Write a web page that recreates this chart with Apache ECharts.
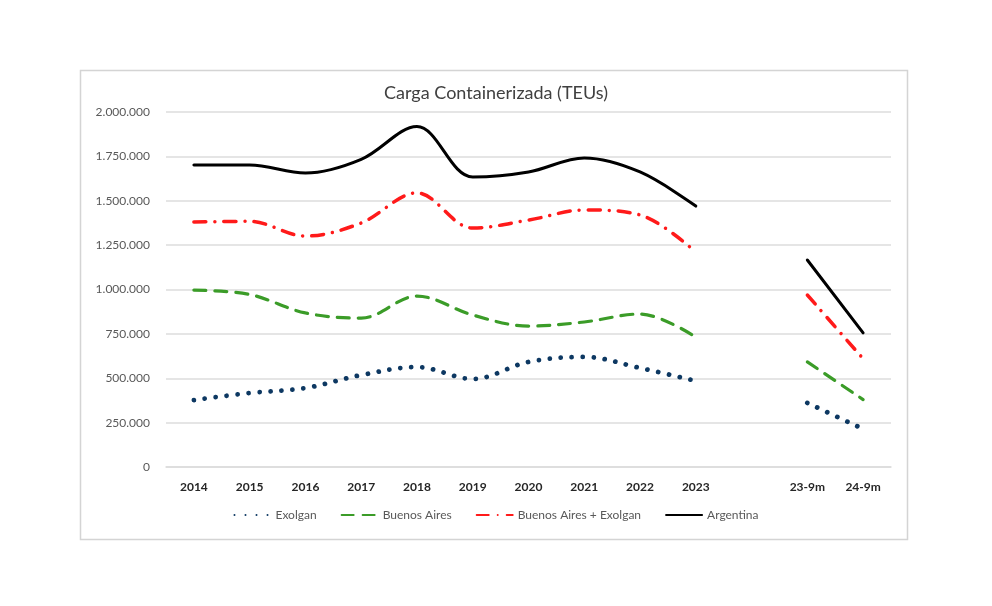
<!DOCTYPE html>
<html>
<head>
<meta charset="utf-8">
<script src="https://cdn.jsdelivr.net/npm/echarts@6/dist/echarts.min.js"></script>
<style>
  html, body { margin: 0; padding: 0; background: #fff; }
  #chart { width: 992px; height: 606px; }
</style>
</head>
<body>
<div id="chart"></div>
<script>
// Categories (empty slot separates yearly data from 9-month comparison)
const categories = ['2014', '2015', '2016', '2017', '2018', '2019', '2020', '2021', '2022', '2023', '', '23-9m', '24-9m']

// TEUs
const exolgan = [377000, 417000, 445000, 518000, 563000, 496000, 592000, 620000, 558000, 485000, null, 361000, 214000]
const buenosAires = [997000, 972000, 868000, 839000, 963000, 856000, 794000, 817000, 862000, 732000, null, 592000, 380000]
const baExolgan = [1380000, 1384000, 1301000, 1375000, 1544000, 1346000, 1391000, 1448000, 1420000, 1211000, null, 969000, 610000]
const argentina = [1701000, 1702000, 1656000, 1733000, 1918000, 1634000, 1662000, 1741000, 1662000, 1470000, null, 1166000, 756000]

const yTicks = [0, 250000, 500000, 750000, 1000000, 1250000, 1500000, 1750000, 2000000]

// Colors
const COLOR_EXOLGAN = '#0d3862'
const COLOR_BA = '#3b9c28'
const COLOR_BA_EX = '#ff1a1a'
const COLOR_ARG = '#000000'
const COLOR_GRID = '#dcdcdc'

const FONT = 'Lato, "Open Sans", sans-serif'

const fmtThousands = (v) => String(v).replace(/\B(?=(\d{3})+(?!\d))/g, '.')

const chart = echarts.init(document.getElementById('chart'))

const lineSeries = (name, data, color, width, dash) => ({
  name,
  type: 'line',
  data,
  smooth: 0.35,
  connectNulls: false,
  symbol: 'none',
  lineStyle: { color, width, type: dash, cap: 'round' },
  itemStyle: { color },
})

chart.setOption({
  animation: false,
  backgroundColor: '#ffffff',
  textStyle: { fontFamily: FONT },
  graphic: [
    {
      type: 'rect',
      shape: { x: 80.5, y: 70.5, width: 827, height: 469 },
      style: { fill: 'none', stroke: '#d4d4d4', lineWidth: 1.5 },
      silent: true,
    },
  ],
  title: {
    text: 'Carga Containerizada (TEUs)',
    left: 'center',
    top: 79,
    textStyle: { fontFamily: FONT, fontSize: 18, fontWeight: 'normal', color: '#404040' },
  },
  grid: { left: 166, right: 101, top: 112, bottom: 139 },
  legend: {
    bottom: 80,
    left: 'center',
    itemWidth: 36,
    itemHeight: 8,
    itemGap: 24,
    itemStyle: { opacity: 0 },
    textStyle: { fontFamily: FONT, fontSize: 12, color: '#595959' },
    data: ['Exolgan', 'Buenos Aires', 'Buenos Aires + Exolgan', 'Argentina'],
  },
  xAxis: {
    type: 'category',
    data: categories,
    boundaryGap: true,
    axisLine: { show: true, lineStyle: { color: COLOR_GRID, width: 1.5 } },
    axisTick: { show: false },
    axisLabel: {
      margin: 14,
      interval: 0,
      fontFamily: FONT,
      fontSize: 12,
      fontWeight: 'bold',
      color: '#262626',
    },
  },
  yAxis: {
    type: 'value',
    min: yTicks[0],
    max: yTicks[yTicks.length - 1],
    interval: 250000,
    axisLine: { show: false },
    axisTick: { show: false },
    axisLabel: {
      margin: 16,
      fontFamily: FONT,
      fontSize: 12,
      color: '#595959',
      formatter: fmtThousands,
    },
    splitLine: { lineStyle: { color: COLOR_GRID, width: 1.5 } },
  },
  series: [
    lineSeries('Exolgan', exolgan, COLOR_EXOLGAN, 4.8, [0.01, 11]),
    lineSeries('Buenos Aires', buenosAires, COLOR_BA, 3.2, [12, 9]),
    lineSeries('Buenos Aires + Exolgan', baExolgan, COLOR_BA_EX, 3.5, [12, 9, 0.01, 9]),
    lineSeries('Argentina', argentina, COLOR_ARG, 3, 'solid'),
  ],
})
</script>
</body>
</html>
